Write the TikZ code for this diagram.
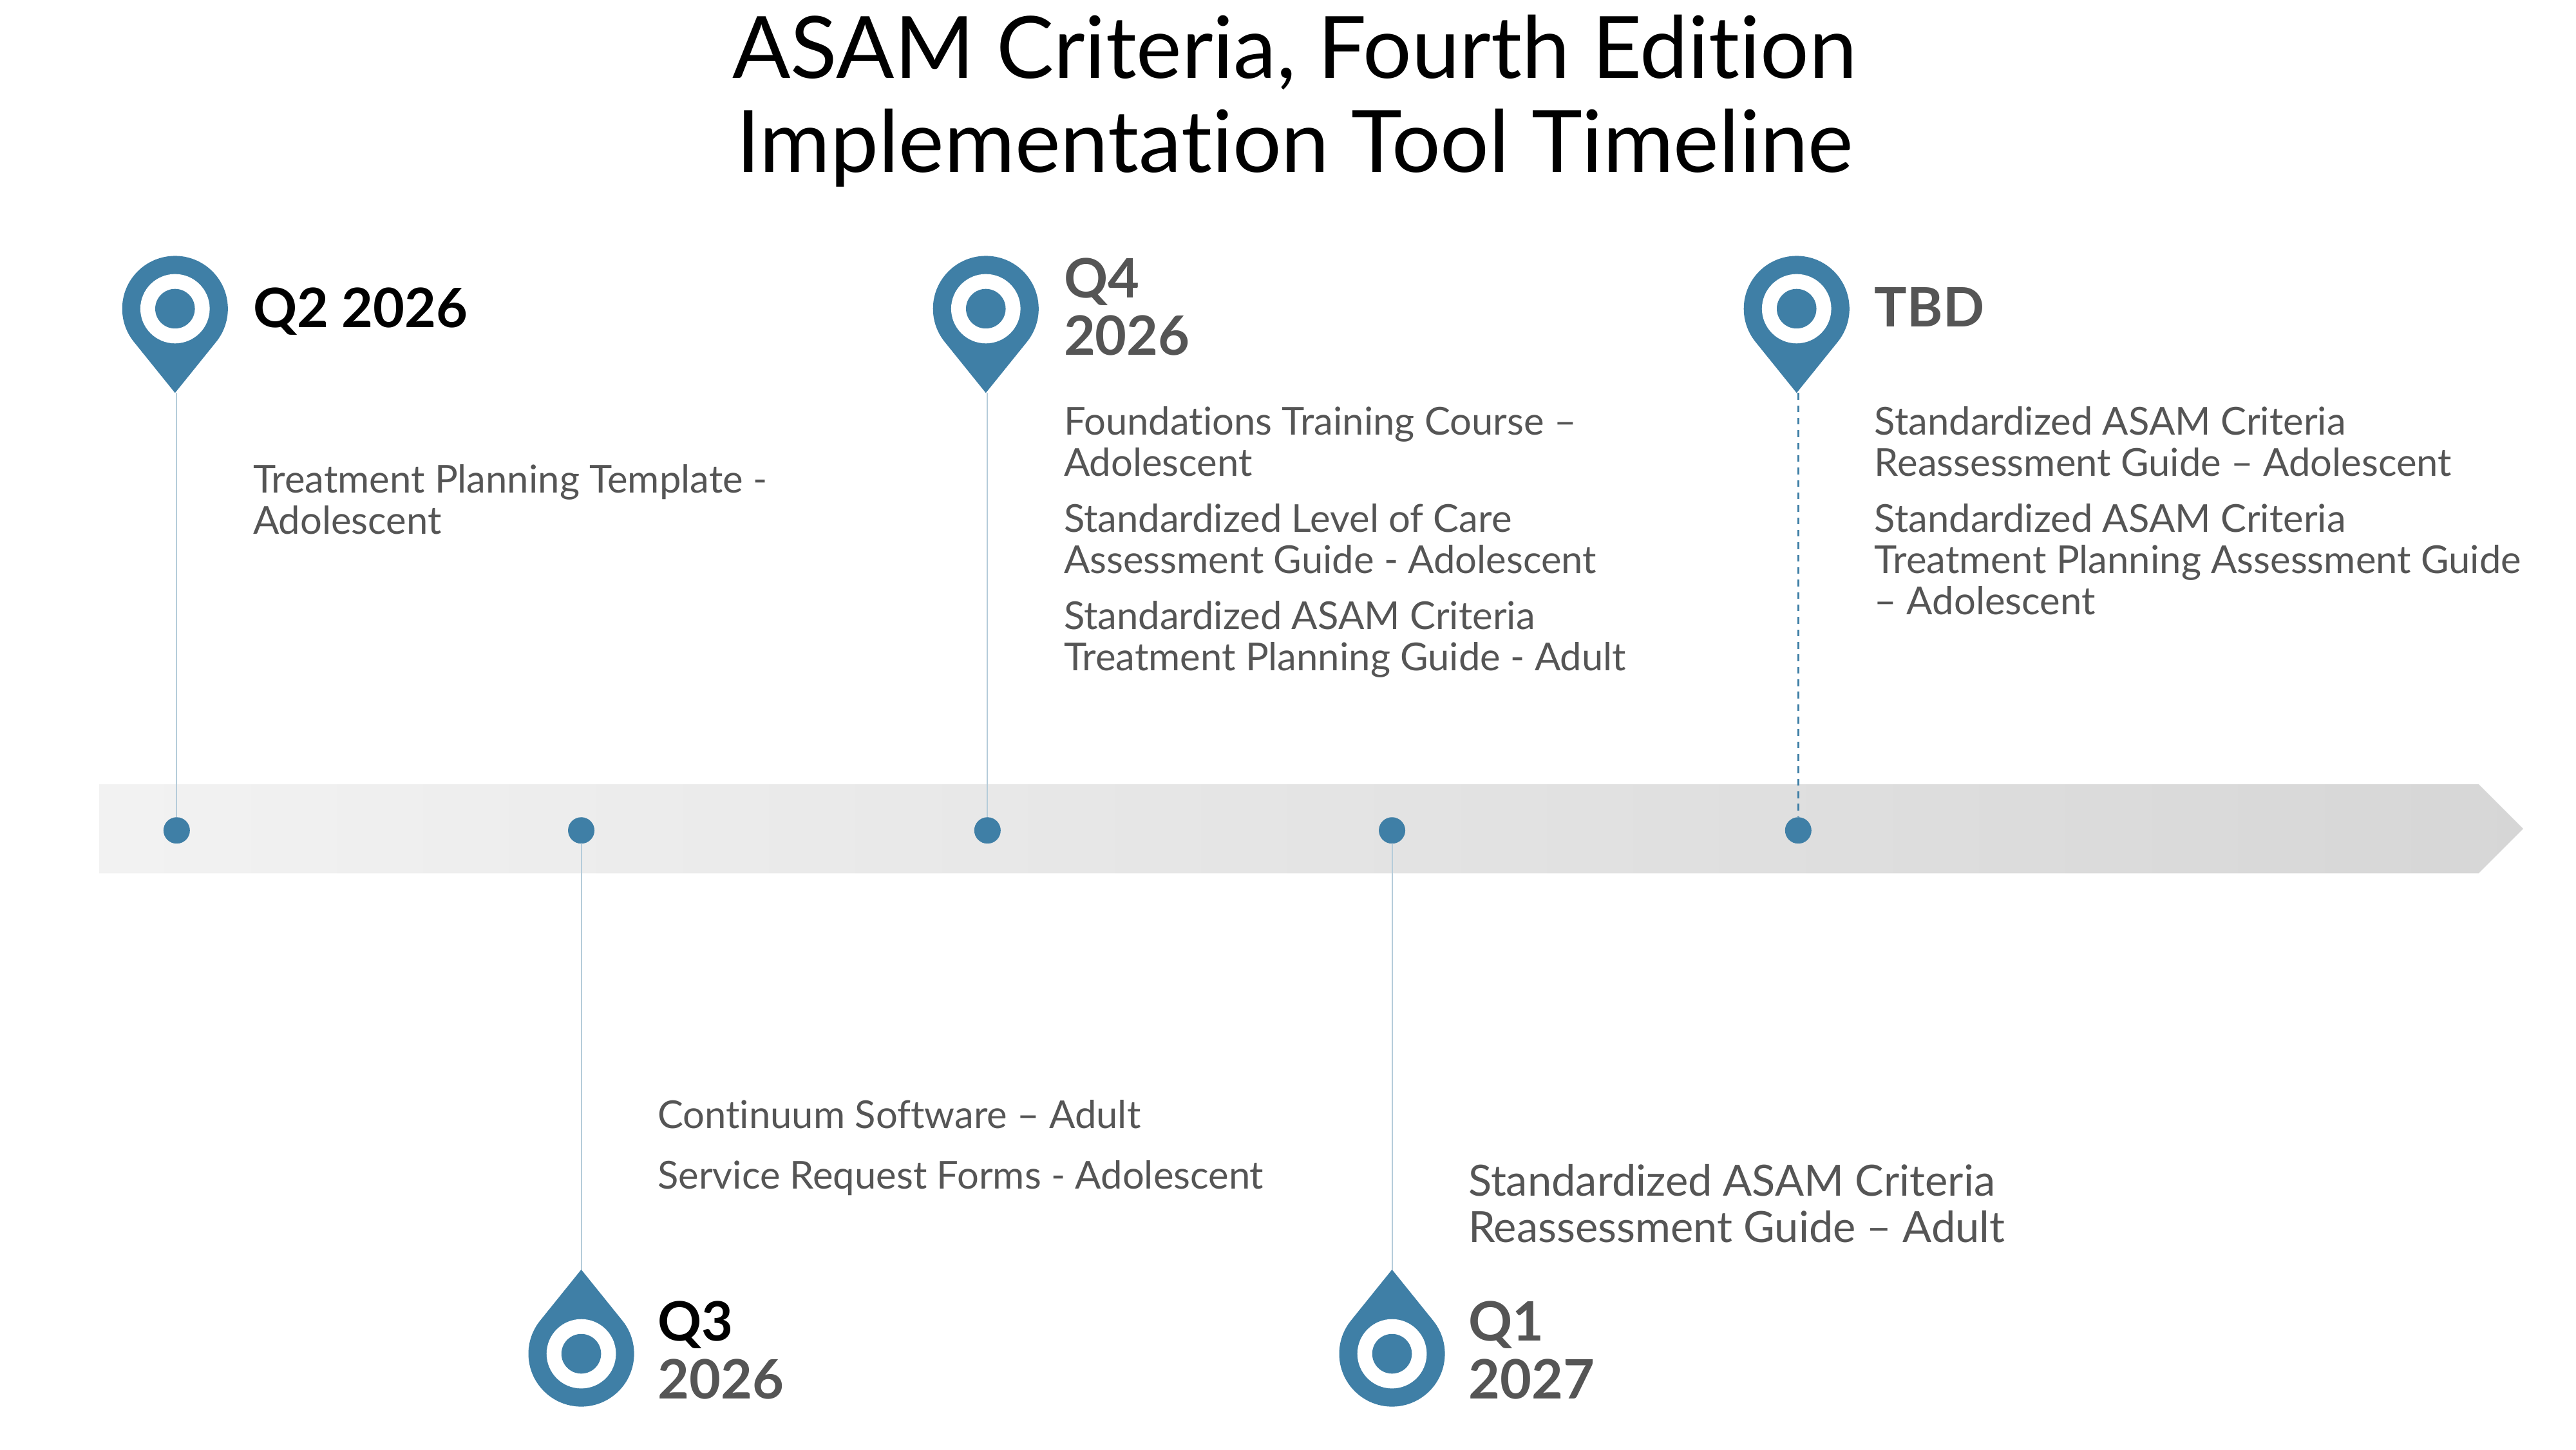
\documentclass[tikz,border=0pt]{standalone}
\usepackage{fontspec}
\setmainfont{Lato}[Ligatures=NoCommon]
\begin{document}
\begin{tikzpicture}[x=0.02564cm,y=-0.02564cm,
  stem/.style={draw=stemc,line width=0.6pt},
  head/.style={anchor=north west,inner sep=0pt,align=left,font=\fontsize{24}{25.4}\selectfont\bfseries,text=txt},
  body/.style={anchor=north west,inner sep=0pt,align=left,font=\fontsize{17}{18.2}\selectfont,text=txt},
  pics/pin/.style={code={
    \fill[pinc] (0,51) -- (38.9:32) arc[start angle=38.9,end angle=-218.9,radius=32] -- cycle;
    \fill[white] (0,0) circle[radius=21];
    \fill[pinc] (0,0) circle[radius=12];
  }}]
\definecolor{pinc}{HTML}{3F7FA6}
\definecolor{stemc}{HTML}{B5CCDA}
\definecolor{txt}{HTML}{555555}
\useasboundingbox (0,0) rectangle (1560,878);
% band
\shade[left color=black!5,right color=black!16] (60,475) -- (1501,475) -- (1528,502) -- (1501,529) -- (60,529) -- cycle;
% title
\node[inner sep=0pt,align=center,font=\fontsize{38}{41.5}\selectfont] (title) at (784,61) {ASAM Criteria, Fourth Edition\\Implementation Tool Timeline};
% dots
\foreach \n/\x in {d1/107,d2/352,d3/598,d4/843,d5/1089}
  \node[circle,fill=pinc,inner sep=0pt,minimum size=0.41cm] (\n) at (\x,503) {};
% stems
\coordinate (t1) at (107,238);
\coordinate (t3) at (598,238);
\coordinate (t5) at (1089,238);
\coordinate (t2) at (352,769);
\coordinate (t4) at (843,769);
\draw[stem] (t1) -- (d1);
\draw[stem] (t3) -- (d3);
\draw[pinc,line width=1pt,dash pattern=on 3pt off 2.5pt] (t5) -- (d5);
\draw[stem] (d2) -- (t2);
\draw[stem] (d4) -- (t4);
% pins
\pic at (106,187) {pin};
\pic at (597,187) {pin};
\pic at (1088,187) {pin};
\pic[yscale=-1] at (352,820) {pin};
\pic[yscale=-1] at (843,820) {pin};
% labels
\node[head,text=black] (h1) at (153,174) {Q2 2026};
\node[body] (b1) at (153,281) {Treatment Planning Template -\\Adolescent};
\node[head] (h3) at (644,156) {Q4\\2026};
\node[body] (b3) at (644,246) {Foundations Training Course –\\Adolescent\\[6.5pt]Standardized Level of Care\\Assessment Guide - Adolescent\\[6.5pt]Standardized ASAM Criteria\\Treatment Planning Guide - Adult};
\node[head] (h5) at (1135,174) {TBD};
\node[body] (b5) at (1135,246) {Standardized ASAM Criteria\\Reassessment Guide – Adolescent\\[6.5pt]Standardized ASAM Criteria\\Treatment Planning Assessment Guide\\– Adolescent};
\node[head] (h2) at (398,788) {\textcolor{black}{Q3}\\2026};
\node[body] (b2) at (398,666) {Continuum Software – Adult\\[8.5pt]Service Request Forms - Adolescent};
\node[head] (h4) at (889,788) {Q1\\2027};
\node[body,font=\fontsize{19}{20.4}\selectfont] (b4) at (889,705) {Standardized ASAM Criteria\\Reassessment Guide – Adult};
\end{tikzpicture}
\end{document}
